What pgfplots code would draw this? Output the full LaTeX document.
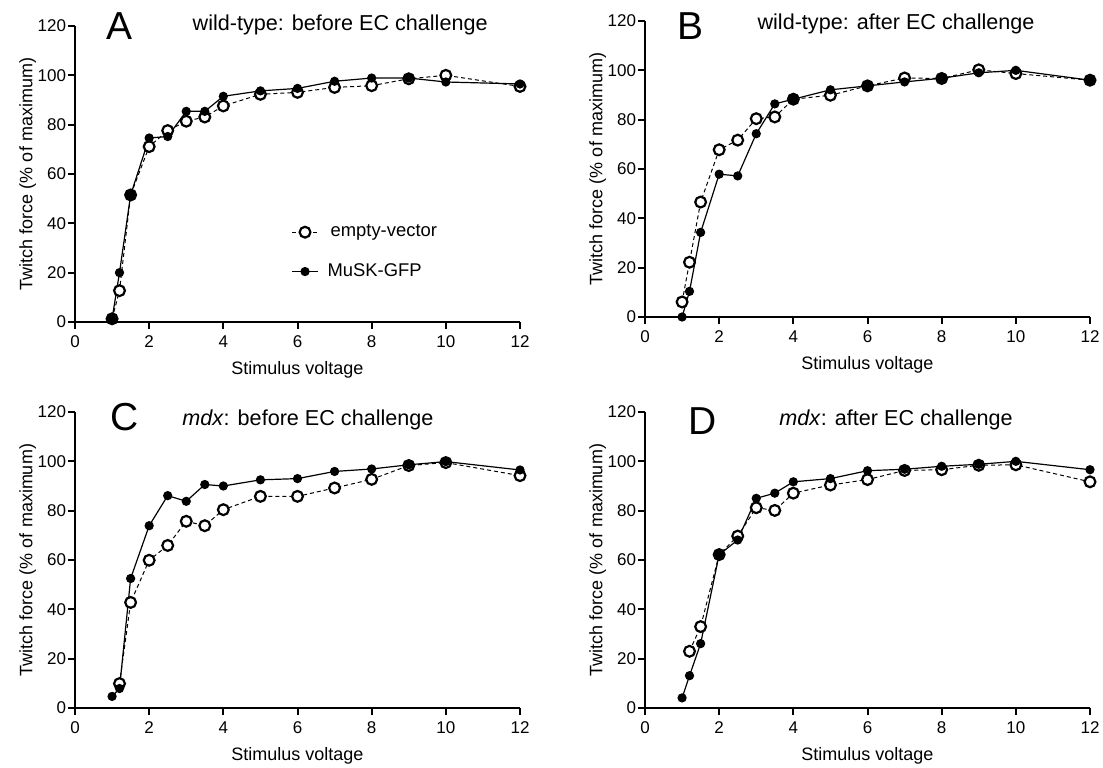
\documentclass[border=0pt]{standalone}
\usepackage{pgfplots}
\pgfplotsset{compat=1.18}
\usepackage{fontspec}
\setmainfont{Liberation Sans}

\pgfplotsset{
  twitch/.style={
    width=222.5pt, height=148pt, scale only axis,
    xmin=0, xmax=12, ymin=0, ymax=120,
    xtick={0,2,...,12}, ytick={0,20,...,120},
    axis lines=left, axis line style={-, line width=1pt},
    tick align=outside, major tick length=3.5pt,
    tick style={line width=1pt, black},
    ticklabel style={font=\fontsize{8.5}{10}\selectfont},
    yticklabel style={inner sep=0.8pt},
    /pgf/number format/assume math mode=true,
    xlabel={Stimulus voltage}, ylabel={Twitch force (\% of maximum)},
    label style={font=\fontsize{9}{11}\selectfont},
    xlabel style={at={(axis description cs:0.5,-0.162)}, anchor=center},
    ylabel style={at={(axis description cs:-0.106,0.5)}, anchor=center},
    clip=false,
  },
  ev/.style={black, line width=0.5pt, dash pattern=on 2pt off 1.5pt,
    mark=*, mark size=2.7pt, mark options={solid, line width=1.1pt, fill=white, draw=black}},
  mg/.style={black, line width=0.6pt, mark=*, mark size=2pt, mark options={solid, fill=black}},
}
\tikzset{
  panel/.style={font=\fontsize{19.5}{22}\selectfont},
  ptitle/.style={font=\fontsize{10.8}{13}\selectfont},
}

% x  empty-vector  MuSK-GFP
\pgfplotstableread{
x    ev     mg
1    1.3    1.3
1.2  12.7   20.0
1.5  51.5   51.5
2    71.1   74.6
2.5  77.6   75.2
3    81.4   85.4
3.5  83.1   85.4
4    87.6   91.5
5    92.3   93.7
6    93.1   94.7
7    95.1   97.6
8    95.8   98.9
9    98.6   98.9
10   100.0  97.3
12   95.5   96.5
}\wtbefore
\pgfplotstableread{
x    ev     mg
1    6.1    0.0
1.2  22.2   10.4
1.5  46.6   34.3
2    67.8   57.9
2.5  71.7   57.2
3    80.4   74.3
3.5  81.1   86.4
4    88.3   88.3
5    89.9   92.1
6    93.7   93.7
7    96.9   95.3
8    96.7   96.8
9    100.2  99.0
10   98.7   100.0
12   96.0   96.0
}\wtafter
\pgfplotstableread{
x    ev     mg
1    nan    4.7
1.2  9.9    7.9
1.5  42.8   52.5
2    59.9   73.9
2.5  65.9   86.1
3    75.7   83.8
3.5  73.9   90.6
4    80.4   90.0
5    85.8   92.5
6    85.8   93.0
7    89.2   95.9
8    92.7   96.9
9    98.3   98.6
10   99.5   99.9
12   94.2   96.5
}\mdxbefore
\pgfplotstableread{
x    ev     mg
1    nan    4.1
1.2  23.0   13.1
1.5  33.0   26.1
2    62.2   62.2
2.5  69.7   68.1
3    81.2   85.0
3.5  80.1   87.1
4    87.1   91.7
5    90.4   93.0
6    92.6   96.2
7    96.3   96.8
8    96.6   98.0
9    98.4   98.8
10   98.6   100.0
12   91.7   96.6
}\mdxafter

\begin{document}
\begin{tikzpicture}
\path[use as bounding box] (0,0) rectangle (551.5pt,383.5pt);

\begin{axis}[twitch, at={(37.5pt,222.5pt)}, anchor=south west,
  legend style={at={(0.472,0.357)}, anchor=north west, draw=none, fill=none,
    font=\fontsize{9.2}{11}\selectfont, row sep=8pt, cells={anchor=west}},
  legend image code/.code={\draw[mark repeat=2,mark phase=2,#1] plot coordinates {(0pt,0pt) (6.5pt,0pt) (13pt,0pt)};}]
  \addplot[ev] table[x=x, y=ev] {\wtbefore};
  \addlegendentry{\hspace{4pt}empty-vector}
  \addplot[mg] table[x=x, y=mg] {\wtbefore};
  \addlegendentry{\hspace{2.5pt}MuSK-GFP}
  \node[panel] at (axis cs:1.21,120) {A};
  \node[ptitle] at (axis cs:7.15,120.3) {wild-type: before EC challenge};
\end{axis}

\begin{axis}[twitch, at={(322.5pt,225pt)}, anchor=south west]
  \addplot[ev] table[x=x, y=ev] {\wtafter};
  \addplot[mg] table[x=x, y=mg] {\wtafter};
  \node[panel] at (axis cs:1.24,117.8) {B};
  \node[ptitle] at (axis cs:6.77,118.7) {wild-type: after EC challenge};
\end{axis}

\begin{axis}[twitch, at={(37.5pt,29.5pt)}, anchor=south west]
  \addplot[ev] table[x=x, y=ev] {\mdxbefore};
  \addplot[mg] table[x=x, y=mg] {\mdxbefore};
  \node[panel] at (axis cs:1.35,118) {C};
  \node[ptitle] at (axis cs:6.28,116.7) {\textit{mdx}: before EC challenge};
\end{axis}

\begin{axis}[twitch, at={(322.5pt,29.5pt)}, anchor=south west]
  \addplot[ev] table[x=x, y=ev] {\mdxafter};
  \addplot[mg] table[x=x, y=mg] {\mdxafter};
  \node[panel] at (axis cs:1.54,116.3) {D};
  \node[ptitle] at (axis cs:6.77,116.7) {\textit{mdx}: after EC challenge};
\end{axis}
\end{tikzpicture}
\end{document}
